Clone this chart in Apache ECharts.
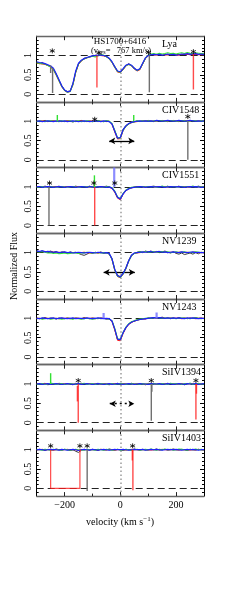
<!DOCTYPE html>
<html><head><meta charset="utf-8">
<script src="https://cdn.jsdelivr.net/npm/echarts@6/dist/echarts.min.js"></script>
<style>html,body{margin:0;padding:0;background:#fff}#c{width:240px;height:598px}</style>
</head><body><div id="c"></div>
<script>
// ---------------- DATA ----------------
const VEL = [-300,-290,-280,-270,-260,-250,-240,-230,-220,-210,
 -200,-190,-180,-170,-160,-150,-140,-130,-120,-110,
 -100,-90,-80,-70,-60,-50,-40,-30,-20,-10,
 0,10,20,30,40,50,60,70,80,90,
 100,110,120,130,140,150,160,170,180,190,
 200,210,220,230,240,250,260,270,280,290,
 300];
const PANEL_LABELS = ['Lya','CIV1548','CIV1551','NV1239','NV1243','SiIV1394','SiIV1403'];
const X_TICK_LABELS = [-200, 0, 200];
const Y_TICK_LABELS = [0, 0.5, 1];
const TITLE_LINE1 = 'HS1700+6416';
const TITLE_VSYS = 767;

// Lya
const LYA_BLUE = [0.84,0.82,0.81,0.79,0.76,0.73,0.67,0.53,0.37,0.21,
 0.11,0.06,0.08,0.28,0.60,0.80,0.88,0.92,0.95,0.97,
 0.99,1.00,1.01,1.01,1.00,0.98,0.93,0.84,0.71,0.60,
 0.58,0.66,0.75,0.78,0.75,0.67,0.62,0.66,0.80,0.94,
 1.00,1.02,1.03,1.02,1.03,1.01,1.02,1.04,1.02,1.03,
 1.01,1.02,1.04,1.03,1.05,1.03,1.04,1.05,1.03,1.04,
 1.03];
const LYA_GREEN = [0.81,0.80,0.79,0.78,0.74,0.70,0.64,0.50,0.35,0.20,
 0.10,0.05,0.07,0.25,0.57,0.78,0.87,0.91,0.94,0.96,
 0.98,0.96,1.00,1.02,1.01,0.97,0.92,0.83,0.70,0.59,
 0.57,0.65,0.74,0.77,0.74,0.66,0.61,0.65,0.79,0.93,
 1.01,1.04,1.05,1.03,1.06,1.04,1.05,1.07,1.05,1.06,
 1.04,1.06,1.07,1.05,1.08,1.06,1.05,1.07,1.06,1.05,
 1.06];
const LYA_RED = [0.80,0.79,0.78,0.77,0.74,0.70,0.63,0.49,0.34,0.19,
 0.09,0.05,0.07,0.24,0.56,0.77,0.86,0.91,0.94,0.96,
 0.98,0.99,1.00,1.00,0.99,0.97,0.91,0.82,0.69,0.57,
 0.56,0.63,0.73,0.77,0.73,0.65,0.60,0.63,0.78,0.92,
 0.99,1.01,1.02,1.01,1.02,1.00,1.01,1.02,1.01,1.02,
 1.00,1.01,1.02,1.02,1.03,1.02,1.02,1.03,1.02,1.02,
 1.02];
const LYA_BLACK = [0.83,0.79,0.82,0.77,0.75,0.72,0.65,0.52,0.36,0.22,
 0.10,0.07,0.08,0.27,0.58,0.79,0.86,0.93,0.94,0.97,
 0.98,1.01,0.99,1.02,1.00,0.97,0.92,0.83,0.72,0.59,
 0.57,0.65,0.74,0.79,0.74,0.68,0.61,0.65,0.79,0.93,
 1.00,1.03,1.01,1.03,1.02,1.00,1.03,1.02,1.03,1.01,
 1.02,1.03,1.02,1.04,1.03,1.04,1.02,1.04,1.03,1.02,
 1.03];
// spikes: [velocity, flux from, flux to]
const LYA_GREY_SPIKES = [[-250,0.74,0.55],[-243,0.68,0.03],[104,1.00,0.05]];
const LYA_RED_SPIKES = [[-84,1.00,0.17],[262,1.04,0.12]];
const LYA_STARS = [[-244,1.12],[-77,1.07],[101,1.08],[262,1.10]];

// CIV1548
const C1548_BLUE = [1.00,1.01,0.99,1.00,1.01,1.00,0.99,1.01,1.00,1.00,
 1.01,0.99,1.00,1.01,1.00,0.99,1.00,1.01,1.00,0.99,
 1.00,1.01,1.00,0.99,1.01,1.00,0.99,0.93,0.74,0.56,
 0.58,0.78,0.88,0.94,0.97,0.99,1.00,1.01,1.00,1.01,
 1.00,1.01,1.00,1.02,1.01,1.00,1.01,1.02,1.01,1.00,
 1.01,1.02,1.01,1.00,1.01,1.02,1.01,1.00,1.01,1.00,
 1.01];
const C1548_GREEN = [0.99,1.01,1.00,0.99,1.01,1.01,1.00,1.00,0.99,1.01,
 1.00,1.00,1.01,0.99,1.00,1.01,0.99,1.00,1.01,1.00,
 0.99,1.00,1.01,1.00,0.99,1.01,1.00,0.94,0.76,0.57,
 0.57,0.77,0.87,0.93,0.97,0.98,1.01,1.00,1.01,1.00,
 1.01,1.00,1.01,1.01,1.02,1.01,1.00,1.01,1.02,1.01,
 1.00,1.01,1.02,1.01,1.00,1.01,1.02,1.01,1.00,1.01,
 1.00];
const C1548_RED = [1.00,1.00,1.01,1.00,0.99,1.00,1.01,1.00,1.00,0.99,
 1.00,1.01,1.00,1.00,0.99,1.00,1.01,1.00,0.99,1.00,
 1.01,1.00,0.99,1.00,1.00,0.99,1.00,0.92,0.72,0.54,
 0.55,0.76,0.87,0.93,0.96,0.98,0.99,1.00,1.00,1.01,
 1.00,1.00,1.01,1.00,1.01,1.00,1.01,1.00,1.01,1.01,
 1.00,1.01,1.00,1.01,1.01,1.00,1.01,1.00,1.01,1.00,
 1.00];
const C1548_BLACK = [1.01,0.99,1.00,1.02,0.99,1.00,1.01,0.99,1.01,1.00,
 0.99,1.01,1.00,0.98,1.01,1.00,1.02,0.99,1.00,1.01,
 0.99,1.00,1.02,1.00,0.99,1.01,1.00,0.93,0.75,0.55,
 0.57,0.79,0.89,0.93,0.98,0.99,1.01,0.99,1.01,1.00,
 1.02,1.00,0.99,1.01,1.00,1.02,1.00,0.99,1.01,1.02,
 1.00,0.99,1.01,1.02,1.00,1.01,0.99,1.01,1.00,1.01,
 1.00];
const C1548_GREEN_SPIKES = [[-226,1.00,1.16],[48,1.00,1.16]];
const C1548_GREY_SPIKES = [[242,1.00,0.00]];
const C1548_STARS = [[-92,1.05],[242,1.12]];
const C1548_ARROW = [-40, 50, 0.49];

// CIV1551
const C1551_BLUE = [1.00,1.01,0.99,1.00,1.01,1.00,0.99,1.00,1.01,1.00,
 0.99,1.00,1.01,1.00,0.99,1.00,1.01,1.00,0.99,1.01,
 1.00,0.99,1.00,1.01,1.00,0.99,1.00,0.97,0.88,0.73,
 0.69,0.82,0.91,0.95,0.98,0.99,1.00,1.01,1.00,0.99,
 1.00,1.01,1.00,1.00,1.01,1.00,0.99,1.00,1.01,1.00,
 1.00,1.01,1.00,0.99,1.00,1.01,1.00,1.01,1.00,0.99,
 1.00];
const C1551_GREEN = [0.99,1.00,1.01,0.99,1.00,1.01,1.00,0.99,1.00,1.01,
 1.00,0.99,1.00,1.01,1.00,0.99,1.00,1.01,1.00,1.00,
 0.99,1.01,1.00,1.00,0.99,1.01,1.00,0.98,0.89,0.74,
 0.70,0.83,0.92,0.96,0.99,1.00,0.99,1.00,1.01,1.00,
 1.01,1.00,1.01,0.99,1.00,1.02,1.00,1.01,1.00,1.01,
 1.00,1.00,1.01,1.00,1.01,1.00,1.02,1.00,1.01,1.00,
 1.01];
const C1551_RED = [1.00,1.00,1.00,1.01,0.99,1.00,1.00,1.01,0.99,1.00,
 1.00,1.01,0.99,1.00,1.00,1.01,0.99,1.00,1.00,0.99,
 1.00,1.00,0.99,1.00,1.01,1.00,0.99,0.96,0.86,0.71,
 0.67,0.81,0.90,0.95,0.98,0.99,1.00,1.00,0.99,1.00,
 1.00,1.00,0.99,1.01,1.00,1.00,1.01,0.99,1.00,1.00,
 1.01,1.00,1.00,1.01,0.99,1.00,1.00,1.01,1.00,1.00,
 1.00];
const C1551_BLACK = [1.01,0.99,1.00,1.02,1.00,0.99,1.01,1.00,1.02,0.99,
 1.00,1.01,0.99,1.00,1.02,1.00,0.99,1.01,1.00,1.02,
 0.99,1.00,1.01,0.99,1.00,1.02,1.00,0.97,0.87,0.72,
 0.68,0.83,0.90,0.96,0.97,1.00,1.01,0.99,1.01,1.00,
 0.99,1.01,1.02,1.00,0.99,1.01,1.00,1.02,0.99,1.01,
 1.00,1.02,0.99,1.00,1.01,0.99,1.01,1.00,1.02,1.00,
 1.01];
const C1551_GREY_SPIKES = [[-256,1.00,0.00]];
const C1551_RED_SPIKES = [[-92,1.00,0.00]];
const C1551_GREEN_SPIKES = [[-93,1.00,1.30]];
const C1551_BLUE_SPIKES = [[-22,1.00,1.50]];
const C1551_STARS = [[-254,1.10],[-95,1.10],[-20,1.10]];

// NV1239
const N1239_BLUE = [1.04,1.03,1.05,1.02,1.03,1.02,1.01,1.02,1.00,1.01,
 1.02,1.00,1.01,0.99,1.00,1.01,1.00,0.99,1.00,1.01,
 1.00,0.99,1.01,1.00,0.99,1.00,0.98,0.84,0.56,0.40,
 0.37,0.46,0.60,0.79,0.93,0.99,1.00,1.01,1.02,1.01,
 1.02,1.03,1.01,1.02,1.03,1.01,1.02,1.00,1.01,1.02,
 1.01,1.00,1.02,1.01,1.00,1.01,1.02,1.00,1.01,1.00,
 1.00];
const N1239_GREEN = [1.03,1.02,1.03,1.01,0.99,1.00,0.98,0.99,0.97,0.98,
 0.99,0.97,0.98,1.00,0.99,0.98,1.00,0.99,1.01,1.00,
 0.99,1.00,1.00,0.99,1.00,0.99,0.97,0.83,0.55,0.39,
 0.36,0.45,0.59,0.78,0.92,0.98,1.00,1.02,1.01,1.03,
 1.01,1.02,1.03,1.01,1.02,1.03,1.01,1.02,1.00,1.01,
 1.02,1.00,1.01,1.02,1.00,1.01,1.00,1.02,1.01,1.00,
 1.01];
const N1239_RED = [1.02,1.03,1.02,1.03,1.01,1.02,1.01,1.00,1.01,1.00,
 1.01,1.00,0.99,1.00,1.00,0.99,1.00,1.01,1.00,0.99,
 1.00,1.00,0.99,1.00,1.00,0.99,0.97,0.82,0.54,0.38,
 0.35,0.44,0.58,0.78,0.92,0.98,0.99,1.00,1.01,1.02,
 1.01,1.01,1.02,1.01,1.01,1.02,1.01,1.00,1.01,1.01,
 1.00,1.01,1.01,1.00,1.01,1.00,1.01,1.01,1.00,1.00,
 1.00];
const N1239_BLACK = [1.05,1.02,1.04,1.03,1.02,1.04,1.01,1.03,0.99,1.02,
 1.01,0.98,1.02,1.00,1.01,0.98,0.95,0.93,0.96,1.00,
 0.98,1.01,0.99,1.02,0.98,1.00,0.96,0.85,0.57,0.41,
 0.38,0.47,0.61,0.80,0.94,0.98,1.01,1.03,1.00,1.04,
 1.02,1.04,1.01,1.03,1.00,1.02,1.04,1.01,0.99,1.02,
 0.98,0.96,0.99,0.95,0.97,0.99,0.96,1.00,0.97,1.01,
 0.99];
const N1239_ARROW = [-60, 52, 0.49];

// NV1243
const N1243_BLUE = [1.00,0.99,1.01,1.00,0.99,1.00,1.01,0.99,1.00,1.01,
 1.00,0.99,1.00,1.01,0.99,1.00,1.00,0.99,1.01,1.00,
 0.99,1.00,1.01,1.00,0.99,1.00,0.99,0.93,0.72,0.46,
 0.45,0.63,0.76,0.85,0.90,0.93,0.95,0.97,0.98,0.99,
 1.00,1.01,1.02,1.01,1.02,1.01,1.00,1.01,1.00,1.01,
 1.00,1.01,1.00,0.99,1.01,1.00,1.01,1.00,0.99,1.00,
 1.00];
const N1243_GREEN = [0.99,1.00,0.98,0.99,1.00,0.98,0.99,1.00,0.99,0.98,
 0.99,1.00,0.99,0.98,1.00,0.99,0.98,0.99,1.00,0.99,
 0.98,0.99,1.00,0.99,1.00,0.99,0.98,0.94,0.74,0.47,
 0.46,0.64,0.77,0.86,0.91,0.94,0.96,0.98,0.99,1.00,
 1.01,1.00,1.01,1.02,1.01,1.00,1.01,1.00,1.01,1.00,
 0.99,1.00,1.01,1.00,1.00,0.99,1.00,1.01,1.00,0.99,
 1.00];
const N1243_RED = [1.00,1.00,0.99,1.00,1.00,0.99,1.00,1.00,0.99,1.00,
 1.00,1.00,0.99,1.00,1.00,1.00,0.99,1.00,1.00,1.00,
 1.00,0.99,1.00,1.00,1.00,0.99,0.98,0.92,0.70,0.43,
 0.42,0.61,0.75,0.84,0.89,0.93,0.95,0.97,0.98,0.99,
 1.00,1.00,1.01,1.01,1.00,1.01,1.00,1.00,1.01,1.00,
 1.00,1.00,0.99,1.00,1.00,1.00,1.00,0.99,1.00,1.00,
 1.00];
const N1243_BLACK = [1.01,0.99,1.00,1.02,0.99,1.01,1.00,0.98,1.01,1.00,
 0.99,1.01,1.00,0.99,1.01,1.00,0.99,1.02,1.00,0.99,
 1.01,1.00,0.99,1.01,1.00,0.98,1.00,0.93,0.71,0.45,
 0.44,0.62,0.77,0.85,0.91,0.92,0.96,0.97,0.99,0.98,
 1.01,1.00,1.02,1.00,1.01,1.03,1.00,1.01,0.99,1.01,
 1.00,1.02,1.00,1.01,0.99,1.01,1.00,1.02,1.00,1.01,
 0.99];
const N1243_BLUE_SPIKES = [[-60,1.00,1.14],[130,1.00,1.15]];

// SiIV1394
const S1394_BLUE = [1.00,1.01,0.99,1.00,1.01,0.99,1.00,1.01,1.00,0.99,
 1.00,1.01,1.00,0.99,1.00,1.01,0.99,1.00,1.01,1.00,
 0.99,1.00,1.01,1.00,0.99,1.00,1.01,0.99,1.00,1.01,
 1.00,0.99,1.00,1.01,1.00,0.99,1.00,1.01,1.00,1.00,
 0.99,1.01,1.00,1.00,1.01,0.99,1.00,1.01,1.00,0.99,
 1.00,1.01,1.00,0.99,1.01,1.00,1.00,1.01,0.99,1.00,
 1.01];
const S1394_GREEN = [0.99,1.00,1.01,0.99,1.00,1.02,1.01,0.99,1.00,1.01,
 0.99,1.00,1.01,1.00,0.99,1.01,1.00,1.02,0.99,1.00,
 1.01,0.99,1.00,1.01,1.00,0.99,1.00,1.01,0.99,1.00,
 1.01,1.00,0.99,1.00,1.01,1.00,1.00,0.99,1.01,1.00,
 1.00,0.99,1.01,1.00,0.99,1.01,1.00,0.99,1.02,1.00,
 1.01,1.00,0.99,1.01,1.00,1.02,0.99,1.00,1.01,1.00,
 1.00];
const S1394_RED = [1.00,1.00,1.00,1.01,1.00,1.00,0.99,1.00,1.00,1.00,
 1.01,1.00,1.00,1.00,0.99,1.00,1.00,1.00,1.00,1.01,
 1.00,1.00,0.99,1.00,1.00,1.00,1.00,1.00,1.01,1.00,
 1.00,1.00,1.00,0.99,1.00,1.00,1.01,1.00,1.00,1.00,
 1.00,1.00,0.99,1.00,1.00,1.00,1.01,1.00,1.00,1.00,
 0.99,1.00,1.00,1.00,1.01,1.00,1.00,0.99,1.00,1.00,
 1.00];
const S1394_BLACK = [1.01,0.99,1.00,1.02,0.98,1.00,1.01,0.99,1.02,1.00,
 0.99,1.01,1.00,0.98,1.01,1.00,1.02,0.99,1.00,1.01,
 0.99,1.00,1.02,0.99,1.01,1.00,0.98,1.01,1.00,1.02,
 0.99,1.01,1.00,0.99,1.02,1.00,0.99,1.01,1.00,0.98,
 1.01,1.00,1.02,0.99,1.00,1.01,0.99,1.02,1.00,1.01,
 0.99,1.00,1.01,0.98,1.00,1.02,1.00,0.99,1.01,1.00,
 1.01];
const S1394_GREEN_SPIKES = [[-250,1.00,1.28]];
const S1394_RED_SPIKES = [[-154,0.95,0.55],[-151,1.00,0.00],[271,1.00,0.08],[273,1.00,0.75]];
const S1394_GREY_SPIKES = [[111,1.00,0.05],[113,1.00,0.80]];
const S1394_STARS = [[-151,1.09],[111,1.09],[271,1.09]];
const S1394_ARROW = [-38, 50, 0.49];

// SiIV1403
const S1403_BLUE = [1.00,1.01,1.00,0.99,1.00,1.01,1.00,1.00,0.99,1.01,
 1.00,0.99,1.00,1.01,1.00,0.98,1.00,1.01,1.00,0.99,
 1.01,1.00,0.99,1.00,1.01,1.00,0.99,1.00,1.01,1.00,
 1.00,1.01,1.00,0.99,1.00,1.01,1.00,1.00,1.01,0.99,
 1.00,1.01,1.00,1.01,1.00,0.99,1.00,1.01,1.00,1.00,
 1.01,1.00,0.99,1.00,1.01,1.00,1.01,1.00,0.99,1.00,
 1.00];
const S1403_GREEN = [1.01,1.00,0.99,1.01,1.00,0.99,1.01,1.00,1.00,0.99,
 1.01,1.00,0.99,1.00,1.01,0.99,1.00,0.99,1.01,1.00,
 1.00,0.99,1.01,1.00,0.99,1.01,1.00,0.99,1.00,1.01,
 0.99,1.00,1.01,1.00,0.99,1.00,1.01,0.99,1.00,1.01,
 1.00,1.02,1.00,0.99,1.01,1.00,1.02,1.00,1.01,0.99,
 1.00,1.02,1.01,1.00,0.99,1.01,1.00,1.02,1.00,1.01,
 1.00];
const S1403_RED = [1.00,1.00,1.01,1.00,1.00,1.00,0.99,1.00,1.00,1.00,
 1.00,1.01,1.00,1.00,1.00,0.99,1.00,1.00,1.00,1.00,
 1.00,1.00,1.00,1.01,1.00,1.00,1.00,1.00,0.99,1.00,
 1.00,1.00,0.99,1.00,1.01,1.00,1.00,1.00,1.00,1.00,
 1.00,0.99,1.00,1.00,1.00,1.01,1.00,1.00,1.00,1.00,
 1.00,1.00,1.00,1.00,1.00,0.99,1.00,1.00,1.01,1.00,
 1.00];
const S1403_BLACK = [0.99,1.01,1.00,0.98,1.01,1.00,0.99,1.02,1.00,0.99,
 1.01,1.00,0.98,1.00,0.96,0.93,0.99,1.01,1.00,0.99,
 1.01,1.00,0.98,1.01,1.00,0.99,1.02,1.00,0.99,1.01,
 1.00,0.98,1.01,1.00,0.99,1.02,1.00,0.99,1.01,1.00,
 0.99,1.01,1.00,1.02,0.99,1.00,1.01,0.99,1.00,1.02,
 1.00,0.99,1.01,1.00,0.98,1.01,1.00,0.99,1.01,1.00,
 0.99];
const S1403_RED_PATH = [[-250,1.00],[-250,0.00],[-145,0.00],[-145,0.92],[-143,1.00]];
const S1403_RED_SPIKES = [[43,1.00,0.72],[45,1.00,-0.05]];
const S1403_GREY_SPIKES = [[-119,1.00,-0.07]];
const S1403_STARS = [[-250,1.10],[-145,1.10],[-119,1.10],[44,1.10]];

// ---------------- BUILD ----------------
const PANELS = [
 {label:PANEL_LABELS[0], black:LYA_BLACK, red:LYA_RED, green:LYA_GREEN, blue:LYA_BLUE,
  spikes:{grey:LYA_GREY_SPIKES, red:LYA_RED_SPIKES}, stars:LYA_STARS},
 {label:PANEL_LABELS[1], black:C1548_BLACK, red:C1548_RED, green:C1548_GREEN, blue:C1548_BLUE,
  spikes:{grey:C1548_GREY_SPIKES, green:C1548_GREEN_SPIKES}, stars:C1548_STARS, arrow:C1548_ARROW},
 {label:PANEL_LABELS[2], black:C1551_BLACK, red:C1551_RED, green:C1551_GREEN, blue:C1551_BLUE,
  spikes:{grey:C1551_GREY_SPIKES, red:C1551_RED_SPIKES, green:C1551_GREEN_SPIKES, blue:C1551_BLUE_SPIKES}, stars:C1551_STARS},
 {label:PANEL_LABELS[3], black:N1239_BLACK, red:N1239_RED, green:N1239_GREEN, blue:N1239_BLUE,
  spikes:{}, stars:[], arrow:N1239_ARROW},
 {label:PANEL_LABELS[4], black:N1243_BLACK, red:N1243_RED, green:N1243_GREEN, blue:N1243_BLUE,
  spikes:{blue:N1243_BLUE_SPIKES}, stars:[]},
 {label:PANEL_LABELS[5], black:S1394_BLACK, red:S1394_RED, green:S1394_GREEN, blue:S1394_BLUE,
  spikes:{grey:S1394_GREY_SPIKES, red:S1394_RED_SPIKES, green:S1394_GREEN_SPIKES}, stars:S1394_STARS, arrow:S1394_ARROW, arrowDotted:true},
 {label:PANEL_LABELS[6], black:S1403_BLACK, red:S1403_RED, green:S1403_GREEN, blue:S1403_BLUE,
  spikes:{grey:S1403_GREY_SPIKES, red:S1403_RED_SPIKES}, paths:{red:[S1403_RED_PATH]}, stars:S1403_STARS}
];

const FONT = '"Liberation Serif", "DejaVu Serif", serif';
const L = 36.7, W = 167.3, TOP0 = 36.2, H = 65.7;
const COL = {black:'#3a3a3a', red:'#ff1a1a', green:'#33e033', blue:'#1f1fff'};
const SPIKE_COL = {grey:'#707070', red:'rgba(255,30,30,0.8)', green:'#33e033', blue:'rgba(120,120,255,0.85)'};
const STAR = 'path://M5,0 L5,10 M0.67,2.5 L9.33,7.5 M0.67,7.5 L9.33,2.5';

const grids = [], xAxes = [], yAxes = [], series = [], graphics = [];
const fmtX = v => v < 0 ? '\u2212' + Math.abs(v) : String(v);

PANELS.forEach((p, gi) => {
  const top = TOP0 + gi * H;
  const last = gi === PANELS.length - 1;
  grids.push({left:L, width:W, top:top, height:H});
  const xBase = {gridIndex:gi, type:'value', min:-300, max:300, splitLine:{show:false}};
  const lineStyleBorder = {color:'#666', width:1.3};
  xAxes.push(Object.assign({}, xBase, {position:'bottom',
    axisLine:{show:true, onZero:false, lineStyle:lineStyleBorder},
    axisTick:{show:true, inside:true, length:4, customValues:X_TICK_LABELS, lineStyle:{color:'#222', width:1}},
    axisLabel:{show:last, customValues:X_TICK_LABELS, formatter:fmtX, fontFamily:FONT, fontSize:10, color:'#000', margin:4}}));
  xAxes.push(Object.assign({}, xBase, {position:'bottom',
    axisLine:{show:false, onZero:false},
    axisTick:{show:true, inside:true, length:2.5, customValues:[-100,100], lineStyle:{color:'#222', width:1}},
    axisLabel:{show:false}}));
  xAxes.push(Object.assign({}, xBase, {position:'top',
    axisLine:{show:true, onZero:false, lineStyle:lineStyleBorder},
    axisTick:{show:true, inside:true, length:4, customValues:X_TICK_LABELS, lineStyle:{color:'#222', width:1}},
    axisLabel:{show:false}}));
  xAxes.push(Object.assign({}, xBase, {position:'top',
    axisLine:{show:false, onZero:false},
    axisTick:{show:true, inside:true, length:2.5, customValues:[-100,100], lineStyle:{color:'#222', width:1}},
    axisLabel:{show:false}}));
  const yBase = {gridIndex:gi, type:'value', min:-0.2, max:1.5, splitLine:{show:false}};
  const minorY = [-0.1,0.1,0.2,0.3,0.4,0.6,0.7,0.8,0.9,1.1,1.2,1.3,1.4];
  ['left','right'].forEach(pos => {
    yAxes.push(Object.assign({}, yBase, {position:pos,
      axisLine:{show:true, onZero:false, lineStyle:{color:'#000', width:1}},
      axisTick:{show:true, inside:true, length:4, customValues:Y_TICK_LABELS, lineStyle:{color:'#000'}},
      axisLabel:{show:pos === 'left', customValues:Y_TICK_LABELS, rotate:90, fontFamily:FONT, fontSize:10, color:'#000', margin:3}}));
    yAxes.push(Object.assign({}, yBase, {position:pos,
      axisLine:{show:false, onZero:false},
      axisTick:{show:true, inside:true, length:2, customValues:minorY, lineStyle:{color:'#000'}},
      axisLabel:{show:false}}));
  });
  const xi = gi * 4, yi = gi * 4;
  const pairs = arr => VEL.map((v, i) => [v, arr[i]]);
  const base = {type:'line', xAxisIndex:xi, yAxisIndex:yi, showSymbol:false, symbol:'none', animation:false, silent:true, clip:true};
  series.push(Object.assign({}, base, {data:pairs(p.black), lineStyle:{color:COL.black, width:1}, z:3,
    markLine:{silent:true, symbol:'none', label:{show:false}, animation:false,
      lineStyle:{color:'#222', width:1, type:[7,4]},
      data:[{yAxis:1},{yAxis:0},{xAxis:0, lineStyle:{color:'#9a9a9a', width:1.5, type:[1.5,2.5]}}]}}));
  series.push(Object.assign({}, base, {data:pairs(p.red), lineStyle:{color:COL.red, width:1}, z:4}));
  series.push(Object.assign({}, base, {data:pairs(p.green), lineStyle:{color:COL.green, width:1.1}, z:5}));
  const blue = Object.assign({}, base, {data:pairs(p.blue), lineStyle:{color:COL.blue, width:1.2}, z:6});
  if (p.arrow) {
    blue.markLine = {silent:true, symbol:['arrow','arrow'], symbolSize:[5,6], label:{show:false}, animation:false,
      lineStyle:{color:'#000', width:1.3, type:p.arrowDotted ? [2,3] : 'solid'},
      data:[[{coord:[p.arrow[0], p.arrow[2]]},{coord:[p.arrow[1], p.arrow[2]]}]]};
  }
  series.push(blue);
  Object.keys(p.spikes).forEach(c => {
    p.spikes[c].forEach(s => {
      series.push(Object.assign({}, base, {data:[[s[0], s[1]],[s[0], s[2]]],
        lineStyle:{color:SPIKE_COL[c], width:c === 'blue' ? 2.2 : 1.4}, z:7}));
    });
  });
  if (p.paths) Object.keys(p.paths).forEach(c => {
    p.paths[c].forEach(path => {
      series.push(Object.assign({}, base, {data:path, lineStyle:{color:SPIKE_COL[c], width:1.2}, z:7}));
    });
  });
  if (p.stars.length) series.push({type:'scatter', xAxisIndex:xi, yAxisIndex:yi, data:p.stars, symbol:STAR, symbolSize:5,
    itemStyle:{color:'rgba(0,0,0,0)', borderColor:'#000', borderWidth:1}, z:8, animation:false, silent:true});
  graphics.push({type:'text', left:162, top:top + 3, silent:true,
    style:{text:p.label, font:'10px ' + FONT, fill:'#000'}});
});

graphics.push({type:'text', x:120, y:42, silent:true,
  style:{text:TITLE_LINE1, font:'9px ' + FONT, fill:'#000', align:'center', verticalAlign:'middle'}});
graphics.push({type:'text', x:121, y:50.5, silent:true,
  style:{text:'(v{s|sys}=   ' + TITLE_VSYS + ' km/s)', font:'8.5px ' + FONT, fill:'#000', align:'center', verticalAlign:'middle',
    rich:{s:{fontSize:6, fontFamily:FONT, verticalAlign:'bottom', padding:[4,0,0,0]}}}});
graphics.push({type:'text', x:120, y:522, silent:true,
  style:{text:'velocity (km s{sup|\u22121})', font:'10px ' + FONT, fill:'#000', align:'center', verticalAlign:'middle',
    rich:{sup:{fontSize:7, fontFamily:FONT, verticalAlign:'top', padding:[0,0,5,0]}}}});
graphics.push({type:'text', x:14, y:266, rotation:Math.PI/2, silent:true,
  style:{text:'Normalized Flux', font:'10px ' + FONT, fill:'#000', align:'center', verticalAlign:'middle'}});

const chart = echarts.init(document.getElementById('c'), null, {renderer:'canvas'});
chart.setOption({animation:false, backgroundColor:'#fff', grid:grids, xAxis:xAxes, yAxis:yAxes, series:series, graphic:graphics});
</script></body></html>
